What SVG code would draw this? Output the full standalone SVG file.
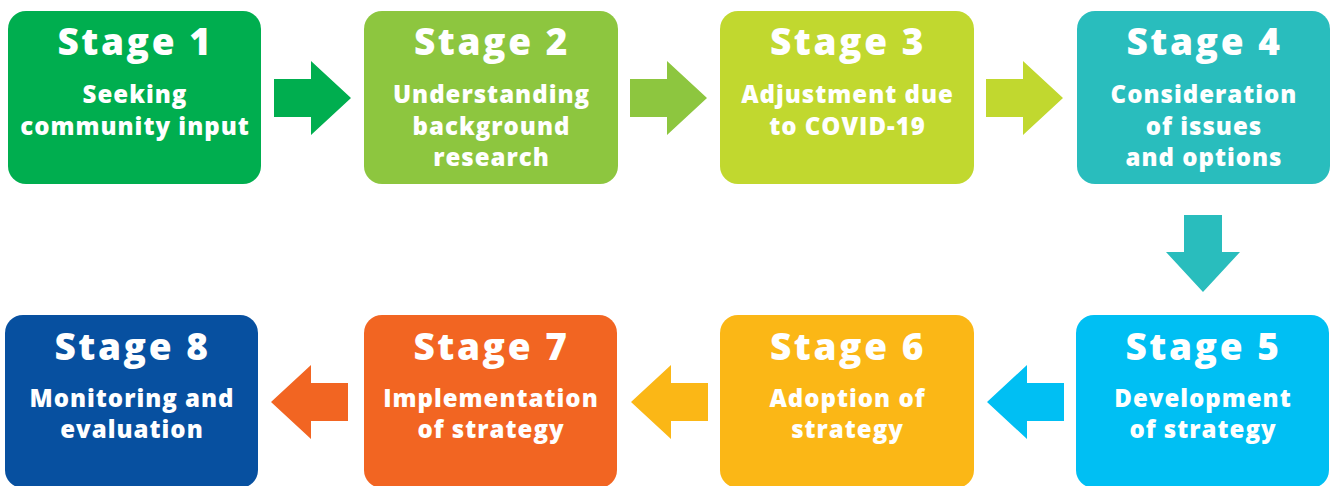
<svg xmlns="http://www.w3.org/2000/svg" width="1335" height="486" viewBox="0 0 1335 486">
  <style>
    .box { stroke: none; }
    .title { font-family: "Open Sans", "DejaVu Sans", sans-serif; font-weight: 800; font-size: 37px; letter-spacing: 2.6px; fill: #ffffff; text-anchor: middle; }
    .sub { font-family: "Open Sans", "DejaVu Sans", sans-serif; font-weight: 800; font-size: 24px; letter-spacing: 1px; fill: #ffffff; text-anchor: middle; }
  </style>
  <defs>
    <!-- block arrow pointing right, origin at shaft start, centred on y=0 -->
    <path id="arrowRight" d="M0,-19 H37 V-37 L77,0 L37,37 V19 H0 Z"/>
  </defs>
  <rect width="1335" height="486" fill="#ffffff"/>

  <!-- top row -->
  <g id="stage1">
    <rect class="box" x="8" y="11" width="253" height="173" rx="18" fill="#00AE4F"/>
    <text class="title" x="135.5" y="55">Stage 1</text>
    <text class="sub" x="135" y="103">Seeking</text>
    <text class="sub" x="135" y="135">community input</text>
  </g>
  <g id="stage2">
    <rect class="box" x="364" y="11" width="254" height="173" rx="18" fill="#8DC63F"/>
    <text class="title" x="492" y="55">Stage 2</text>
    <text class="sub" x="491.5" y="103">Understanding</text>
    <text class="sub" x="491.5" y="135">background</text>
    <text class="sub" x="491.5" y="166">research</text>
  </g>
  <g id="stage3">
    <rect class="box" x="720" y="11" width="254" height="173" rx="18" fill="#C1D82F"/>
    <text class="title" x="848" y="55">Stage 3</text>
    <text class="sub" x="847.5" y="103">Adjustment due</text>
    <text class="sub" x="847.5" y="135">to COVID-19</text>
  </g>
  <g id="stage4">
    <rect class="box" x="1077" y="11" width="253" height="173" rx="18" fill="#29BDBD"/>
    <text class="title" x="1204.5" y="55">Stage 4</text>
    <text class="sub" x="1204" y="103">Consideration</text>
    <text class="sub" x="1204" y="135">of issues</text>
    <text class="sub" x="1204" y="166">and options</text>
  </g>

  <!-- bottom row -->
  <g id="stage5">
    <rect class="box" x="1076" y="315" width="253" height="173" rx="18" fill="#00BFF3"/>
    <text class="title" x="1203.5" y="360">Stage 5</text>
    <text class="sub" x="1203" y="407">Development</text>
    <text class="sub" x="1203" y="438">of strategy</text>
  </g>
  <g id="stage6">
    <rect class="box" x="720" y="315" width="254" height="173" rx="18" fill="#FBB716"/>
    <text class="title" x="848" y="360">Stage 6</text>
    <text class="sub" x="847.5" y="407">Adoption of</text>
    <text class="sub" x="847.5" y="438">strategy</text>
  </g>
  <g id="stage7">
    <rect class="box" x="364" y="315" width="253" height="173" rx="18" fill="#F26522"/>
    <text class="title" x="491.5" y="360">Stage 7</text>
    <text class="sub" x="491" y="407">Implementation</text>
    <text class="sub" x="491" y="438">of strategy</text>
  </g>
  <g id="stage8">
    <rect class="box" x="5" y="315" width="253" height="173" rx="18" fill="#0750A0"/>
    <text class="title" x="132.5" y="360">Stage 8</text>
    <text class="sub" x="132" y="407">Monitoring and</text>
    <text class="sub" x="132" y="438">evaluation</text>
  </g>

  <!-- connectors -->
  <g id="connectors">
    <use href="#arrowRight" transform="translate(274,98)" fill="#00AE4F"/>
    <use href="#arrowRight" transform="translate(630,98)" fill="#8DC63F"/>
    <use href="#arrowRight" transform="translate(986,98)" fill="#C1D82F"/>
    <use href="#arrowRight" transform="translate(1203,215) rotate(90)" fill="#29BDBD"/>
    <use href="#arrowRight" transform="translate(1064,402) rotate(180)" fill="#00BFF3"/>
    <use href="#arrowRight" transform="translate(708,402) rotate(180)" fill="#FBB716"/>
    <use href="#arrowRight" transform="translate(348,402) rotate(180)" fill="#F26522"/>
  </g>
</svg>
